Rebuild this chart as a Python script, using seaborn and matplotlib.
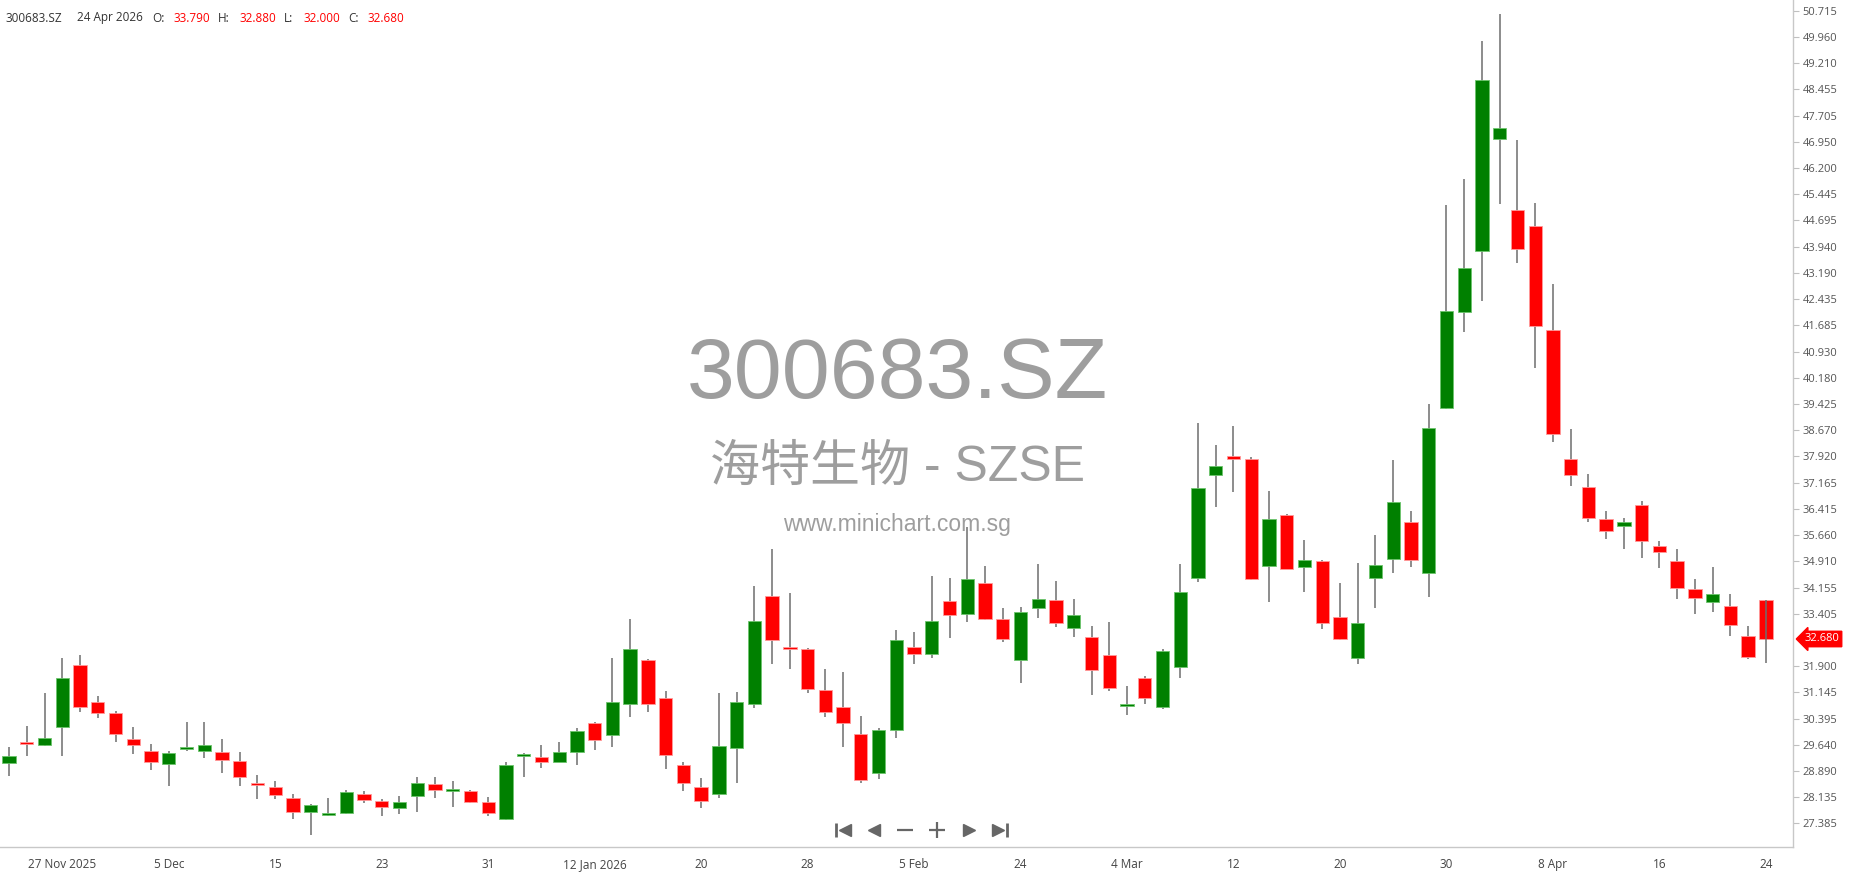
import numpy as np
import matplotlib
matplotlib.use("Agg")
import matplotlib.pyplot as plt
import matplotlib.transforms as mtransforms
import seaborn as sns

# Daily OHLC, 24 Nov 2025 .. 24 Apr 2026
opens = [29.12, 29.70, 29.65, 30.16, 31.94, 30.86, 30.55, 29.81, 29.47, 29.08,
         29.53, 29.47, 29.44, 29.19, 28.53, 28.42, 28.11, 27.72, 27.63, 27.68,
         28.24, 28.04, 27.83, 28.18, 28.53, 28.34, 28.32, 27.99, 27.50, 29.34,
         29.29, 29.16, 29.44, 30.26, 29.92, 30.80, 32.08, 30.98, 29.07, 28.42,
         28.23, 29.56, 30.80, 33.90, 32.44, 32.40, 31.22, 30.72, 29.94, 28.83,
         30.06, 32.44, 32.26, 33.78, 33.39, 34.28, 33.25, 32.07, 33.57, 33.81,
         32.99, 32.73, 32.21, 30.78, 31.55, 30.74, 31.88, 34.43, 37.40, 37.91,
         37.86, 34.78, 36.25, 34.74, 34.92, 33.30, 32.13, 34.42, 34.97, 36.05,
         34.57, 39.31, 42.06, 43.82, 47.02, 44.99, 44.52, 41.56, 37.86, 37.03,
         36.13, 35.93, 36.53, 35.35, 34.92, 34.12, 33.75, 33.63, 32.76, 33.79]
highs = [29.58, 30.19, 31.12, 32.13, 32.23, 31.05, 30.62, 30.15, 29.68, 29.47,
         30.29, 30.29, 29.80, 29.44, 28.79, 28.61, 28.22, 27.93, 28.11, 28.36,
         28.32, 28.08, 28.17, 28.71, 28.71, 28.61, 28.36, 28.14, 29.15, 29.40,
         29.64, 29.71, 30.12, 30.30, 32.13, 33.26, 32.11, 31.19, 29.14, 28.68,
         31.12, 31.16, 34.20, 35.25, 33.99, 32.43, 31.81, 31.73, 30.47, 30.12,
         32.93, 32.87, 34.49, 34.42, 35.90, 34.77, 33.56, 33.59, 34.82, 34.35,
         33.82, 33.05, 33.16, 31.34, 31.62, 32.38, 34.82, 38.89, 38.24, 38.78,
         37.91, 36.93, 36.28, 35.53, 34.95, 34.28, 34.85, 35.67, 37.82, 36.35,
         39.43, 45.14, 45.89, 49.83, 50.63, 47.00, 45.18, 42.88, 38.71, 37.42,
         36.34, 36.14, 36.63, 35.49, 35.27, 34.41, 34.75, 33.98, 33.05, 33.79]
lows = [28.76, 29.33, 29.62, 29.33, 30.58, 30.40, 29.72, 29.37, 28.93, 28.47,
        29.47, 29.26, 28.84, 28.47, 28.09, 28.08, 27.51, 27.05, 27.61, 27.65,
        27.97, 27.61, 27.65, 27.72, 28.12, 27.87, 27.97, 27.59, 27.48, 28.73,
        28.98, 29.15, 29.05, 29.48, 29.59, 30.45, 30.59, 28.95, 28.32, 27.84,
        28.12, 28.55, 30.69, 31.95, 31.81, 31.14, 30.45, 29.59, 28.55, 28.65,
        29.83, 31.95, 32.13, 32.71, 33.16, 33.22, 32.59, 31.41, 33.28, 33.02,
        32.73, 31.06, 31.19, 30.49, 30.81, 30.67, 31.55, 34.33, 36.47, 36.90,
        34.36, 33.74, 34.68, 34.03, 32.96, 32.64, 31.97, 33.57, 34.57, 34.75,
        33.89, 39.28, 41.49, 42.39, 45.16, 43.46, 40.45, 38.33, 37.08, 36.04,
        35.54, 35.25, 35.00, 34.72, 33.84, 33.40, 33.46, 32.78, 32.10, 32.00]
closes = [29.32, 29.68, 29.85, 31.55, 30.74, 30.55, 29.94, 29.65, 29.16, 29.42,
          29.59, 29.65, 29.20, 28.73, 28.50, 28.19, 27.72, 27.91, 27.67, 28.28,
          28.05, 27.87, 27.99, 28.56, 28.36, 28.36, 28.01, 27.68, 29.07, 29.36,
          29.16, 29.44, 30.04, 29.77, 30.86, 32.40, 30.80, 29.34, 28.55, 28.02,
          29.61, 30.86, 33.21, 32.64, 32.42, 31.24, 30.59, 30.27, 28.62, 30.08,
          32.65, 32.24, 33.19, 33.36, 34.41, 33.25, 32.67, 33.45, 33.84, 33.14,
          33.38, 31.78, 31.28, 30.80, 30.98, 32.33, 34.03, 37.00, 37.64, 37.87,
          34.39, 36.13, 34.70, 34.96, 33.13, 32.67, 33.15, 34.80, 36.60, 34.94,
          38.75, 42.09, 43.32, 48.72, 47.35, 43.86, 41.67, 38.55, 37.40, 36.14,
          35.79, 36.03, 35.50, 35.18, 34.13, 33.85, 33.97, 33.07, 32.17, 32.68]

date_labels = ["27 Nov 2025", "5 Dec", "15", "23", "31", "12 Jan 2026", "20", "28",
               "5 Feb", "24", "4 Mar", "12", "20", "30", "8 Apr", "16", "24"]
price_ticks = [50.715, 49.960, 49.210, 48.455, 47.705, 46.950, 46.200, 45.445,
               44.695, 43.940, 43.190, 42.435, 41.685, 40.930, 40.180, 39.425,
               38.670, 37.920, 37.165, 36.415, 35.660, 34.910, 34.155, 33.405,
               31.900, 31.145, 30.395, 29.640, 28.890, 28.135, 27.385]
last_price = 32.680
header_items = [("300683.SZ", "#333333"), ("24 Apr 2026", "#333333"),
                ("O:", "#333333"), ("33.790", "#ff0000"),
                ("H:", "#333333"), ("32.880", "#ff0000"),
                ("L:", "#333333"), ("32.000", "#ff0000"),
                ("C:", "#333333"), ("32.680", "#ff0000")]

sns.set_theme(style="white")
plt.rcParams['font.family'] = ['Open Sans', 'Noto Sans CJK SC', 'DejaVu Sans']

W, H = 1850, 874
fig = plt.figure(figsize=(W / 100, H / 100), dpi=100)
ax = fig.add_axes([0, 27 / H, 1793 / W, 847 / H])

o = np.array(opens)
h = np.array(highs)
l = np.array(lows)
c = np.array(closes)
x = np.arange(len(o))
up = c >= o

# wicks (the live last candle shows its wick over the body)
ax.vlines(x[:-1], l[:-1], h[:-1], color="#6e6e6e", lw=1.1, zorder=2)
ax.vlines(x[-1:], l[-1:], h[-1:], color="#6e6e6e", lw=1.1, zorder=4)

# bodies
body_h = np.maximum(np.abs(c - o), 0.06)
body_mid = (c + o) / 2
face = np.where(up, "#008000", "#ff0000")
edge = np.where(up, "#6cc46c", "#ff9a9a")
ax.bar(x, body_h, bottom=body_mid - body_h / 2, width=0.75,
       color=face, edgecolor=edge, linewidth=0.6, zorder=3)

ax.set_xlim(-0.51, 100.53)
ax.set_ylim(26.71, 51.02)

# axes styling
ax.yaxis.tick_right()
ax.set_yticks(price_ticks)
ax.set_yticklabels([f"{v:.3f}" for v in price_ticks])
ax.set_xticks(np.arange(3, len(o), 6))
ax.set_xticklabels(date_labels)
ax.tick_params(axis="x", direction="out", length=5, width=0.8, color="#cfcfcf",
               labelsize=8.5, labelcolor="#444444", pad=3)
ax.tick_params(axis="y", direction="out", length=4, width=0.8, color="#c0c0c0",
               labelsize=8, labelcolor="#555555", pad=3, right=True, left=False)
for side in ["top", "left"]:
    ax.spines[side].set_visible(False)
for side in ["right", "bottom"]:
    ax.spines[side].set_color("#c8c8c8")
    ax.spines[side].set_linewidth(1.0)
ax.grid(False)

# last price tag
trans = mtransforms.blended_transform_factory(ax.transAxes, ax.transData)
ax.text(1.0065, last_price, f"{last_price:.3f}", transform=trans, color="white",
        fontsize=8, va="center", ha="left", clip_on=False, zorder=6,
        bbox=dict(boxstyle="larrow,pad=0.2", fc="#ff0000", ec="#ff0000"))

# watermark
wm = dict(transform=fig.transFigure, ha="center", va="baseline",
          color="#9e9e9e", zorder=0)
ax.text(897.5 / W, 1 - 398 / H, "300683.SZ", fontsize=62,
        family=["Liberation Sans", "DejaVu Sans"], **wm)
ax.text(897 / W, 1 - 481 / H, "海特生物 - SZSE", fontsize=36,
        family=["Liberation Sans", "Noto Sans CJK SC"], **wm)
ax.text(897 / W, 1 - 531 / H, "www.minichart.com.sg", fontsize=16.5,
        family=["Liberation Sans", "DejaVu Sans"], **wm)

# header line
hx = [5, 77, 152, 173, 218, 239, 284, 303, 348, 368]
for px, (txt, col) in zip(hx, header_items):
    fig.text(px / W, 1 - 18 / H, txt, color=col, fontsize=8.5,
             ha="left", va="center")

# navigation buttons
nav_y = 17 / 847
nav = dict(transform=ax.transAxes, color="#666666", clip_on=False, zorder=5,
           linestyle="none")
ax.plot([836 / 1793], [nav_y], marker="|", markersize=10, mew=2, **nav)
ax.plot([845 / 1793], [nav_y], marker="<", markersize=8, **nav)
ax.plot([874 / 1793], [nav_y], marker="<", markersize=8, **nav)
ax.plot([905 / 1793], [nav_y], marker="_", markersize=11, mew=1.6, **nav)
ax.plot([937 / 1793], [nav_y], marker="+", markersize=11, mew=1.6, **nav)
ax.plot([969 / 1793], [nav_y], marker=">", markersize=8, **nav)
ax.plot([998 / 1793], [nav_y], marker=">", markersize=8, **nav)
ax.plot([1007 / 1793], [nav_y], marker="|", markersize=10, mew=2, **nav)

fig.savefig("out.png", dpi=100)
